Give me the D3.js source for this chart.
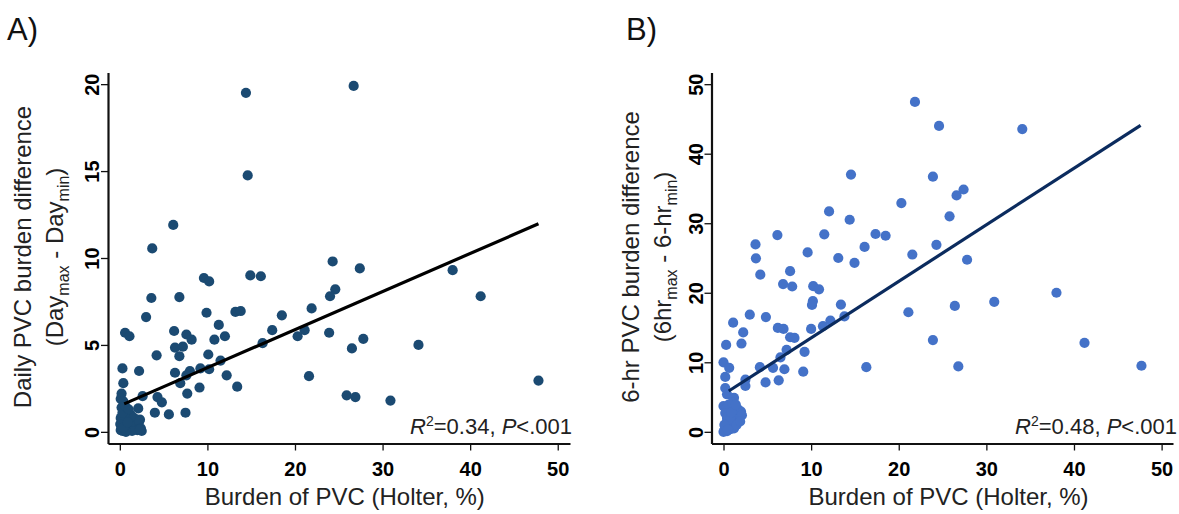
<!DOCTYPE html>
<html>
<head>
<meta charset="utf-8">
<script src="https://cdn.jsdelivr.net/npm/d3@7"></script>
<style>
  body { margin: 0; background: #fff; }
  svg { display: block; font-family: "Liberation Sans", Arial, sans-serif; }
</style>
</head>
<body>
<svg id="chart" width="1179" height="514"></svg>
<script>
// panel A: daily burden difference vs holter burden
const aX = [14.4, 26.7, 14.6, 6.1, 3.7, 24.3, 27.4, 38.0, 14.9, 16.1, 9.6, 10.2, 24.6, 3.6, 6.8, 24.0, 41.2,
  21.9, 13.2, 13.8, 9.9, 3.0, 18.5, 11.3, 17.4, 21.1, 6.2, 0.6, 1.1, 7.6, 8.2, 12.0, 10.8, 20.3, 23.9, 27.8,
  16.3, 34.1, 6.3, 7.2, 26.5, 4.2, 6.8, 10.1, 0.3, 2.2, 6.3, 8.0, 9.2, 10.2, 11.5, 7.6, 12.2, 21.6, 47.8,
  0.4, 6.9, 9.1, 13.4, 7.7, 0.2, 2.6, 4.3, 4.8, 25.9, 26.9, 30.9, 2.1, 4.0, 5.6, 7.5, 2.3, 0.1, 0.4,
  0.1, 0.2, 0.3, 0.4, 0.5, 0.6, 0.7, 0.8, 0.9, 1.0, 1.1, 1.2, 1.3, 1.5, 1.6, 1.8, 2.0, 2.2, 2.4, 0.2,
  0.1, 0.3, 0.05, 0.6, 1.0, 1.4, 0.7, 2.5, 0.4, 0.9, 2.3];
const aY = [19.5, 19.9, 14.75, 11.9, 10.55, 9.8, 9.4, 9.3, 9.0, 8.95, 8.85, 8.65, 8.2, 7.7, 7.75, 7.8, 7.8,
  7.1, 6.9, 6.95, 6.85, 6.6, 6.7, 6.15, 5.85, 5.85, 5.8, 5.7, 5.5, 5.6, 5.3, 5.5, 5.3, 5.5, 5.7, 5.35,
  5.1, 5.0, 4.85, 4.9, 4.8, 4.4, 4.35, 4.45, 3.65, 3.5, 3.4, 3.5, 3.65, 3.6, 4.1, 3.25, 3.25, 3.2, 2.95,
  2.8, 2.8, 2.55, 2.6, 2.2, 2.2, 2.05, 2.0, 1.7, 2.1, 2.0, 1.8, 1.35, 1.1, 1.0, 1.1, 0.7, 1.9, 1.75,
  0.1, 0.3, 0.05, 0.6, 0.2, 0.9, 0.4, 1.2, 0.1, 0.7, 0.3, 1.0, 0.5, 0.15, 0.8, 0.35, 0.1, 0.6, 0.2, 1.4,
  0.8, 1.1, 0.45, 1.5, 1.3, 0.05, 0.0, 0.05, 0.25, 0.55, 0.15];

// panel B: 6-hr burden difference vs holter burden
const bX = [21.85, 24.6, 34.1, 14.55, 23.9, 27.4, 26.6, 20.3, 12.05, 25.8, 14.4, 6.15, 11.5, 17.35, 18.5,
  3.65, 16.1, 24.3, 9.6, 21.55, 3.7, 13.1, 14.95, 27.8, 4.2, 7.6, 6.8, 7.84, 10.24, 10.9, 38.0, 10.2, 10.1,
  13.4, 26.4, 30.9, 21.1, 3.0, 4.84, 13.8, 1.1, 12.2, 11.35, 6.2, 6.85, 10.0, 2.25, 7.6, 8.1, 23.9, 41.2,
  0.3, 2.05, 7.2, 9.25, 6.5, 0.0, 0.65, 4.15, 5.65, 6.95, 16.3, 26.8, 47.7, 9.1, 0.2, 2.5, 6.3, 4.8, 2.5,
  0.2, 0.4, 1.2, 0.0,
  0.1, 0.2, 0.3, 0.4, 0.5, 0.6, 0.7, 0.8, 0.9, 1.0, 1.1, 1.2, 1.3, 1.4, 1.5, 1.6, 1.7, 1.8, 2.0, 0.3,
  0.6, 1.0, 0.2, 0.4, 0.8, 1.2, 1.5, 0.0, 0.1, 0.5, 0.9, 1.4, 2.1, 1.9];
const bY = [47.45, 44.0, 43.55, 37.0, 36.7, 34.85, 34.0, 32.9, 31.7, 31.0, 30.5, 28.3, 28.4, 28.45, 28.2,
  26.95, 26.6, 26.9, 25.8, 25.5, 24.95, 25.0, 24.3, 24.75, 22.6, 23.1, 21.25, 20.9, 20.95, 20.5, 20.0, 18.8,
  18.25, 18.3, 18.1, 18.7, 17.2, 16.85, 16.5, 16.6, 15.7, 16.0, 15.2, 14.95, 14.8, 14.8, 14.3, 13.6, 13.5,
  13.2, 12.8, 12.5, 12.7, 11.8, 11.5, 10.7, 10.0, 9.2, 9.3, 9.2, 9.0, 9.3, 9.4, 9.5, 8.65, 7.9, 7.5, 7.4,
  7.1, 6.6, 6.3, 5.4, 4.9, 3.7,
  0.2, 0.6, 1.2, 0.1, 1.8, 0.8, 2.4, 0.4, 1.5, 3.0, 0.9, 2.1, 3.5, 1.3, 2.6, 1.7, 3.2, 2.3, 2.9, 3.3,
  3.9, 4.2, 2.7, 2.0, 1.9, 0.5, 1.0, 0.0, 1.0, 0.3, 2.8, 3.9, 2.4, 1.5];

// fitted lines: [intercept, slope] and x span
const fitA = [1.5, 0.219];
const fitSpanA = [0.5, 47.8];
const fitB = [5.38, 0.813];
const fitSpanB = [0.6, 47.6];

const xTicks = [0, 10, 20, 30, 40, 50];
const yTicksA = [0, 5, 10, 15, 20];
const yTicksB = [0, 10, 20, 30, 40, 50];

const svg = d3.select("#chart");
svg.append("rect").attr("width", 1179).attr("height", 514).attr("fill", "#fff");

function drawPanel(opt) {
  const g = svg.append("g");
  const x = d3.scaleLinear().domain(opt.xDomain).range(opt.xRange);
  const y = d3.scaleLinear().domain(opt.yDomain).range([443.5, 72.5]);

  // axes
  const xAxis = g.append("g")
    .attr("transform", `translate(0,${y.range()[0]})`)
    .call(d3.axisBottom(x).tickValues(xTicks).tickSize(7).tickSizeOuter(0));
  const yAxis = g.append("g")
    .attr("transform", `translate(${x.range()[0]},0)`)
    .call(d3.axisLeft(y).tickValues(opt.yTicks).tickSize(7).tickSizeOuter(0));

  [xAxis, yAxis].forEach(ax => {
    ax.select(".domain").attr("stroke", "#111").attr("stroke-width", 2.2);
    ax.selectAll(".tick line").attr("stroke", "#111").attr("stroke-width", 1.3);
    ax.selectAll(".tick text")
      .attr("fill", "#000")
      .style("font-family", '"Liberation Sans", Arial, sans-serif')
      .style("font-size", "20px")
      .style("font-weight", "bold");
  });
  xAxis.selectAll(".tick text").attr("y", 32).attr("dy", 0);
  yAxis.selectAll(".tick text")
    .attr("transform", "rotate(-90)")
    .attr("x", 0).attr("y", -9).attr("dy", 0)
    .attr("text-anchor", "middle");

  const line = () => g.append("line")
    .attr("x1", x(opt.span[0])).attr("y1", y(opt.fit[0] + opt.fit[1] * opt.span[0]))
    .attr("x2", x(opt.span[1])).attr("y2", y(opt.fit[0] + opt.fit[1] * opt.span[1]))
    .attr("stroke", opt.lineColor).attr("stroke-width", 3.2);

  g.append("g").selectAll("circle")
    .data(opt.xs.map((v, i) => [v, opt.ys[i]]))
    .join("circle")
    .attr("cx", d => x(d[0]))
    .attr("cy", d => y(d[1]))
    .attr("r", 5.1)
    .attr("fill", opt.dotColor);

  // fitted line drawn over the dots
  line();

  // panel letter
  svg.append("text").attr("x", opt.letterX).attr("y", 40)
    .style("font-size", "31px").attr("fill", "#111").text(opt.letter);

  // x title
  svg.append("text")
    .attr("x", (x(0) + x(50)) / 2 + 6).attr("y", 505)
    .attr("text-anchor", "middle")
    .style("font-size", "24px").attr("fill", "#222")
    .text("Burden of PVC (Holter, %)");

  // y title, two lines with subscripts
  const cy = 257;
  svg.append("text")
    .attr("transform", `translate(${opt.titleX},${cy}) rotate(-90)`)
    .attr("text-anchor", "middle")
    .style("font-size", "24px").attr("fill", "#222")
    .text(opt.title1);
  const t2 = svg.append("text")
    .attr("transform", `translate(${opt.titleX + 32},${cy}) rotate(-90)`)
    .attr("text-anchor", "middle")
    .style("font-size", "24px").attr("fill", "#222");
  t2.append("tspan").text("(" + opt.sub[0]);
  t2.append("tspan").attr("dy", 6).style("font-size", "16px").text("max");
  t2.append("tspan").attr("dy", -6).text(" - " + opt.sub[1]);
  t2.append("tspan").attr("dy", 6).style("font-size", "16px").text("min");
  t2.append("tspan").attr("dy", -6).text(")");

  // R2 annotation
  const ann = svg.append("text")
    .attr("x", opt.annX).attr("y", 434)
    .attr("text-anchor", "end")
    .style("font-size", "22px").attr("fill", "#222");
  ann.append("tspan").style("font-style", "italic").text("R");
  ann.append("tspan").attr("dy", -8).style("font-size", "14px").text("2");
  ann.append("tspan").attr("dy", 8).text("=" + opt.r2 + ", ");
  ann.append("tspan").style("font-style", "italic").text("P");
  ann.append("tspan").text("<.001");
}

drawPanel({
  xs: aX, ys: aY, fit: fitA, span: fitSpanA,
  xDomain: [-1.35, 51.4], xRange: [108, 570],
  yDomain: [-0.67, 20.67], yTicks: yTicksA,
  dotColor: "#1b4a72", lineColor: "#000",
  letter: "A)", letterX: 7, titleX: 31,
  title1: "Daily PVC burden difference", sub: ["Day", "Day"],
  annX: 572, r2: "0.34"
});

drawPanel({
  xs: bX, ys: bY, fit: fitB, span: fitSpanB,
  xDomain: [-1.37, 51.3], xRange: [711.5, 1173],
  yDomain: [-1.68, 51.68], yTicks: yTicksB,
  dotColor: "#4472c8", lineColor: "#0b2b5e",
  letter: "B)", letterX: 626, titleX: 639,
  title1: "6-hr PVC burden difference", sub: ["6hr", "6-hr"],
  annX: 1177, r2: "0.48"
});
</script>
</body>
</html>
